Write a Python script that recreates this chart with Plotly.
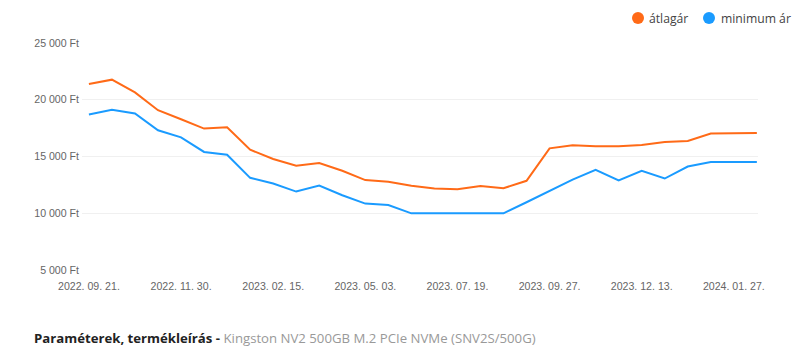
import plotly.graph_objects as go

# Data
tick_labels = ["2022. 09. 21.", "2022. 11. 30.", "2023. 02. 15.", "2023. 05. 03.",
               "2023. 07. 19.", "2023. 09. 27.", "2023. 12. 13.", "2024. 01. 27."]
tick_step = 4

series_names = ["átlagár", "minimum ár"]
atlagar = [21380, 21770, 20650, 19080, 18280, 17460, 17580, 15600, 14780, 14190,
           14420, 13740, 12920, 12770, 12420, 12180, 12120, 12390, 12210, 12860,
           15720, 15990, 15900, 15900, 16010, 16280, 16370, 17020, 17050, 17080]
minimum_ar = [18700, 19110, 18790, 17310, 16690, 15400, 15160, 13120, 12620, 11910,
              12440, 11590, 10850, 10730, 9990, 9990, 9990, 9990, 9990, 10970,
              11970, 12970, 13830, 12890, 13740, 13060, 14120, 14510, 14510, 14510]
categories = list(range(len(atlagar)))

y_ticks = [5000, 10000, 15000, 20000, 25000]
y_tick_text = ["5 000 Ft", "10 000 Ft", "15 000 Ft", "20 000 Ft", "25 000 Ft"]

ORANGE = "#FF6A17"
BLUE = "#1A9BFF"
colors = [ORANGE, BLUE]

fig = go.Figure()
for name, vals, col in zip(series_names, [atlagar, minimum_ar], colors):
    fig.add_trace(go.Scatter(x=categories, y=vals, mode="lines", name=name,
                             line=dict(color=col, width=2), showlegend=False,
                             hoverinfo="y"))

L, R, T, B = 82, 42, 43, 82
W, H = 800, 352
plot_w = W - L - R
plot_h = H - T - B


def px_to_paper_x(px):
    return (px - L) / plot_w


def px_to_paper_y(py):
    return (H - B - py) / plot_h


# custom legend: circle + text
legend_dots_x = [638, 709]
legend_text_x = [649, 721]
legend_y = 18
shapes = []
annotations = []
for name, col, dx, tx in zip(series_names, colors, legend_dots_x, legend_text_x):
    shapes.append(dict(type="circle", xref="paper", yref="paper",
                       x0=px_to_paper_x(dx - 6), x1=px_to_paper_x(dx + 6),
                       y0=px_to_paper_y(legend_y + 6), y1=px_to_paper_y(legend_y - 6),
                       fillcolor=col, line=dict(width=0)))
    annotations.append(dict(xref="paper", yref="paper",
                            x=px_to_paper_x(tx), y=px_to_paper_y(legend_y),
                            xanchor="left", yanchor="middle", showarrow=False,
                            text=name, xshift=-2,
                            font=dict(family="Open Sans, sans-serif", size=12.2, color="#444")))

annotations.append(dict(
    xref="paper", yref="paper",
    x=px_to_paper_x(32), y=px_to_paper_y(338),
    xanchor="left", yanchor="middle", showarrow=False,
    text="<b>Paraméterek, termékleírás -</b> <span style='color:#999'>Kingston NV2 500GB M.2 PCIe NVMe (SNV2S/500G)</span>",
    font=dict(family="Open Sans, sans-serif", size=13.2, color="#222"),
))

fig.update_layout(
    width=W, height=H,
    margin=dict(l=L, r=R, t=T, b=B, autoexpand=False),
    paper_bgcolor="white", plot_bgcolor="white",
    font=dict(family="Open Sans, sans-serif", color="#333"),
    showlegend=False,
    xaxis=dict(range=[-0.3, 29.05], showgrid=False, zeroline=False, showline=False,
               tickmode="array",
               tickvals=categories[::tick_step],
               ticktext=tick_labels,
               tickfont=dict(family="Liberation Sans, Arial, sans-serif", size=10.6, color="#666"),
               ticks="", ticklabelstandoff=8, fixedrange=True, automargin=False),
    yaxis=dict(range=[5000, 25000], showgrid=True, gridcolor="#f0f0f0", gridwidth=1,
               zeroline=False, showline=False,
               tickmode="array", tickvals=y_ticks, ticktext=y_tick_text,
               tickfont=dict(family="Liberation Sans, Arial, sans-serif", size=10.6, color="#666"),
               ticks="", ticklabelstandoff=2, fixedrange=True, automargin=False),
    shapes=shapes,
    annotations=annotations,
)

fig.write_html("out.html")
